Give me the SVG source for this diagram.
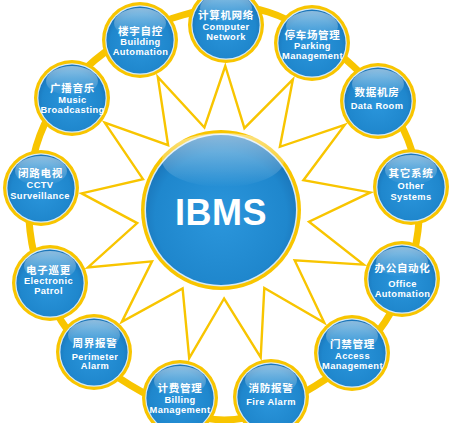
<svg xmlns="http://www.w3.org/2000/svg" xmlns:xlink="http://www.w3.org/1999/xlink" width="450" height="423" viewBox="0 0 450 423">
<defs>
<radialGradient id="blueFill" cx="50%" cy="55%" r="55%">
<stop offset="0" stop-color="#2b96dc"/>
<stop offset="0.8" stop-color="#1f87cd"/>
<stop offset="1" stop-color="#1a74b8"/>
</radialGradient>
<linearGradient id="gloss" x1="0" y1="0" x2="0" y2="1">
<stop offset="0" stop-color="#ffffff" stop-opacity="0.5"/>
<stop offset="1" stop-color="#ffffff" stop-opacity="0"/>
</linearGradient>
<g id="bubble">
<circle r="38" fill="#f8c500"/>
<circle r="34.8" fill="#d6eaf8"/>
<circle r="33.6" fill="url(#blueFill)"/>
<ellipse cx="0" cy="-17" rx="26" ry="15" fill="url(#gloss)"/>
</g>
</defs>
<style>
.cn{font-family:"Noto Sans CJK SC","Noto Sans",sans-serif;font-weight:bold;font-size:10.5px;fill:#fff;text-anchor:middle;letter-spacing:0.7px}
.en{font-family:"Liberation Sans",Arial,sans-serif;font-weight:bold;font-size:9.3px;fill:#fff;text-anchor:middle;letter-spacing:0.4px}
.band{fill:none;stroke:#f8c500;stroke-width:7}
.star{fill:none;stroke:#f8c500;stroke-width:2.4;stroke-linejoin:miter}
</style>
<rect width="450" height="423" fill="#ffffff"/>
<g id="connectors">
<path class="band" d="M183,15 C211.8,7 239.7,3.5 268,12 C296.3,20.5 329.7,44.7 353,66 C376.3,87.3 397.2,112.5 408,140 C418.8,167.5 421.8,200.7 418,231 C414.2,261.3 402.2,296.2 385,322 C367.8,347.8 341.8,369.7 315,386 C288.2,402.3 254.8,420.2 224,420 C193.2,419.8 157,401.3 130,385 C103,368.7 78.7,347.7 62,322 C45.3,296.3 33.7,262.2 30,231 C26.3,199.8 29.2,163.5 40,135 C50.8,106.5 71.2,80 95,60 C118.8,40 154.2,23 183,15 Z"/>
<polygon class="star" points="225.3,66 244.4,128.2 292.9,79.3 279.9,146.8 344.7,124.9 303.4,180.2 370.4,192.4 309,221.7 363.6,264.6 294.7,260.4 324.3,322.7 264.3,288 260.7,357.3 224.1,298.5 189.2,358.1 182.6,288.5 121.8,321.9 152,261.4 87.9,267.4 137.2,223.1 81.6,193.4 143,179.2 104.7,122.7 168.1,145.2 157.8,76.9 204.4,127.5"/>
</g>
<g id="node-ibms">
<circle cx="221" cy="210" r="80" fill="#f8c500"/>
<circle cx="221" cy="210" r="76.5" fill="#d6eaf8"/>
<circle cx="221" cy="210" r="75" fill="url(#blueFill)"/>
<ellipse cx="223" cy="160" rx="61" ry="27" fill="url(#gloss)"/>
<text x="221" y="225" font-family="Liberation Sans, Arial, sans-serif" font-weight="bold" font-size="36" fill="#fff" text-anchor="middle" letter-spacing="0.5">IBMS</text>
</g>
<g id="node-computer">
<use xlink:href="#bubble" x="226" y="25"/>
<text class="cn" x="226" y="19">计算机网络</text>
<text class="en" x="226" y="29.5">Computer</text>
<text class="en" x="226" y="39.5">Network</text>
</g>
<g id="node-parking">
<use xlink:href="#bubble" x="312" y="43"/>
<text class="cn" x="312.5" y="38.7">停车场管理</text>
<text class="en" x="312.5" y="48.5">Parking</text>
<text class="en" x="312.5" y="59">Management</text>
</g>
<g id="node-dataroom">
<use xlink:href="#bubble" x="378" y="101"/>
<text class="cn" x="377" y="95.7">数据机房</text>
<text class="en" x="377" y="109.3">Data Room</text>
</g>
<g id="node-other">
<use xlink:href="#bubble" x="411" y="187"/>
<text class="cn" x="411" y="177.2">其它系统</text>
<text class="en" x="411" y="189.3">Other</text>
<text class="en" x="411" y="199.5">Systems</text>
</g>
<g id="node-office">
<use xlink:href="#bubble" x="402" y="279"/>
<text class="cn" x="402.5" y="272.2">办公自动化</text>
<text class="en" x="402.5" y="287">Office</text>
<text class="en" x="402.5" y="296.7">Automation</text>
</g>
<g id="node-access">
<use xlink:href="#bubble" x="352" y="353"/>
<text class="cn" x="352.5" y="348">门禁管理</text>
<text class="en" x="352.5" y="359.3">Access</text>
<text class="en" x="352.5" y="369.3">Management</text>
</g>
<g id="node-fire">
<use xlink:href="#bubble" x="271" y="397"/>
<text class="cn" x="271" y="392.2">消防报警</text>
<text class="en" x="271" y="405">Fire Alarm</text>
</g>
<g id="node-billing">
<use xlink:href="#bubble" x="180" y="398"/>
<text class="cn" x="180" y="392">计费管理</text>
<text class="en" x="180" y="403.3">Billing</text>
<text class="en" x="180" y="412.7">Management</text>
</g>
<g id="node-perimeter">
<use xlink:href="#bubble" x="94" y="352"/>
<text class="cn" x="95" y="347">周界报警</text>
<text class="en" x="95" y="360">Perimeter</text>
<text class="en" x="95" y="369.3">Alarm</text>
</g>
<g id="node-patrol">
<use xlink:href="#bubble" x="50" y="283"/>
<text class="cn" x="48.5" y="273.8">电子巡更</text>
<text class="en" x="48.5" y="284">Electronic</text>
<text class="en" x="48.5" y="294">Patrol</text>
</g>
<g id="node-cctv">
<use xlink:href="#bubble" x="41" y="188"/>
<text class="cn" x="40.5" y="177.2">闭路电视</text>
<text class="en" x="40" y="188.3">CCTV</text>
<text class="en" x="40" y="199.3">Surveillance</text>
</g>
<g id="node-music">
<use xlink:href="#bubble" x="72" y="98"/>
<text class="cn" x="72.5" y="92.2">广播音乐</text>
<text class="en" x="72.5" y="102.7">Music</text>
<text class="en" x="72.5" y="113.3">Broadcasting</text>
</g>
<g id="node-building">
<use xlink:href="#bubble" x="140" y="40"/>
<text class="cn" x="140.5" y="34.8">楼宇自控</text>
<text class="en" x="140.5" y="45">Building</text>
<text class="en" x="140.5" y="55">Automation</text>
</g>
</svg>
